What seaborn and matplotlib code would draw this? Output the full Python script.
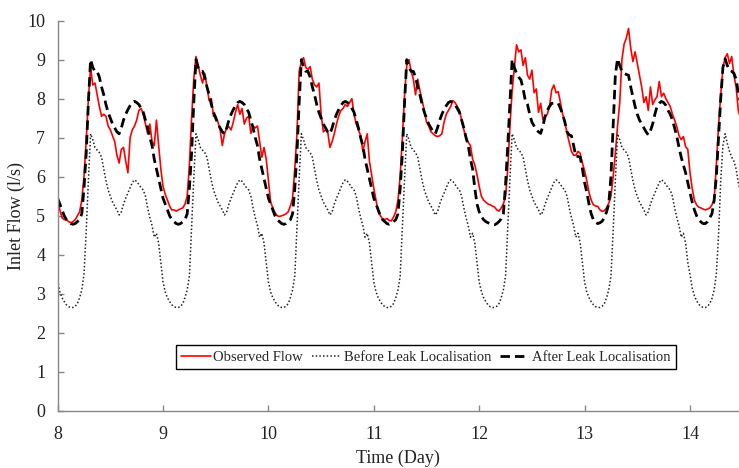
import numpy as np
import pandas as pd
import matplotlib
matplotlib.use("Agg")
import matplotlib.pyplot as plt
import seaborn as sns

# ── Data (half-hourly samples, 48 per day) ────────────────────────────────
START_DAY = 8

observed_d8 = [5.45, 5.15, 4.95, 4.9, 4.9, 4.85, 4.82, 4.85, 4.9, 5.0, 5.1, 5.4, 6.0, 6.9, 8.0, 8.8,
               8.35, 8.4, 8.1, 7.8, 7.55, 7.6, 7.55, 7.3, 7.2, 7.05, 6.9, 6.55, 6.35, 6.7, 6.75, 6.4,
               6.1, 7.0, 7.2, 7.3, 7.45, 7.7, 7.75, 7.6, 7.35, 7.1, 7.35, 6.9, 6.8, 7.45, 6.8, 6.2]
observed_d9 = [5.75, 5.55, 5.4, 5.25, 5.15, 5.15, 5.12, 5.15, 5.18, 5.2, 5.3, 5.5, 6.3, 7.5, 8.5, 9.08,
               8.85, 8.6, 8.4, 8.65, 8.3, 7.95, 8.0, 7.55, 7.55, 7.4, 7.2, 6.8, 7.1, 7.25, 7.28, 7.2,
               7.4, 7.65, 7.85, 7.6, 7.75, 7.35, 7.5, 7.55, 7.11, 7.3, 7.25, 7.3, 6.9, 6.5, 6.75, 6.45]
observed_d10 = [5.9, 5.35, 5.2, 5.08, 5.0, 4.98, 5.0, 5.02, 5.05, 5.1, 5.25, 5.45, 6.2, 7.1, 8.7, 8.95,
                9.05, 8.8, 8.75, 8.82, 8.5, 8.35, 8.3, 8.4, 7.6, 7.15, 7.2, 7.15, 6.75, 6.9, 7.1, 7.35,
                7.55, 7.7, 7.75, 7.85, 7.8, 7.9, 8.0, 7.6, 7.35, 7.2, 7.05, 6.65, 6.9, 7.1, 6.4, 6.05]
observed_d11 = [5.7, 5.4, 5.1, 5.0, 4.92, 4.9, 4.93, 4.88, 4.87, 4.97, 5.1, 5.4, 6.0, 7.0, 8.1, 8.85,
                9.0, 8.7, 8.5, 8.1, 8.5, 8.2, 7.95, 7.7, 7.4, 7.3, 7.15, 7.1, 7.05, 7.03, 7.05, 7.1,
                7.4, 7.6, 7.7, 7.8, 7.95, 7.9, 7.8, 7.7, 7.45, 7.2, 7.0, 6.88, 6.8, 6.45, 6.3, 6.05]
observed_d12 = [5.75, 5.5, 5.4, 5.35, 5.3, 5.28, 5.25, 5.22, 5.15, 5.12, 5.2, 5.3, 5.5, 6.2, 7.3, 8.2,
                8.8, 9.38, 9.2, 9.25, 8.85, 9.05, 8.6, 8.5, 8.73, 8.15, 8.25, 7.65, 7.88, 7.46, 7.55, 7.6,
                7.8, 8.22, 8.35, 8.15, 8.18, 7.9, 7.6, 7.4, 7.11, 6.88, 6.65, 6.55, 6.55, 6.65, 6.6, 6.35]
observed_d13 = [6.15, 5.9, 5.6, 5.4, 5.28, 5.25, 5.24, 5.15, 5.11, 5.13, 5.2, 5.32, 5.5, 6.0, 6.6, 7.3,
                7.9, 9.0, 9.4, 9.55, 9.8, 9.3, 8.95, 9.2, 8.9, 8.6, 8.3, 7.9, 8.05, 7.7, 8.3, 7.85,
                7.97, 8.05, 8.44, 8.05, 8.14, 8.0, 7.9, 7.8, 7.6, 7.45, 7.28, 7.05, 6.95, 7.03, 6.77, 6.7]
observed_d14 = [6.1, 5.7, 5.4, 5.28, 5.22, 5.2, 5.17, 5.15, 5.17, 5.2, 5.28, 5.4, 6.3, 7.3, 8.1, 8.8,
                9.05, 9.15, 8.9, 9.08, 8.6, 8.3, 7.7, 7.5]

before_d8 = [3.35, 3.05, 2.9, 2.8, 2.72, 2.67, 2.65, 2.65, 2.68, 2.75, 2.9, 3.1, 3.5, 4.6, 5.9, 7.1,
             6.95, 6.75, 6.68, 6.62, 6.5, 6.2, 5.9, 5.66, 5.5, 5.35, 5.25, 5.15, 5.02, 5.1, 5.3, 5.45,
             5.58, 5.72, 5.85, 5.92, 5.88, 5.8, 5.72, 5.66, 5.5, 5.2, 4.95, 4.75, 4.45, 4.55, 4.3, 3.8]
before_d9 = [3.3, 3.05, 2.9, 2.8, 2.72, 2.67, 2.65, 2.65, 2.68, 2.75, 2.9, 3.1, 3.45, 4.7, 5.95, 7.1,
             6.95, 6.75, 6.68, 6.62, 6.5, 6.2, 5.9, 5.66, 5.5, 5.35, 5.25, 5.15, 5.02, 5.1, 5.3, 5.45,
             5.58, 5.72, 5.85, 5.92, 5.88, 5.8, 5.72, 5.66, 5.5, 5.2, 4.95, 4.75, 4.45, 4.55, 4.3, 3.8]
before_d10 = [3.3, 3.05, 2.9, 2.8, 2.72, 2.67, 2.65, 2.65, 2.68, 2.75, 2.9, 3.1, 3.45, 4.7, 5.95, 7.1,
              6.95, 6.75, 6.68, 6.62, 6.5, 6.2, 5.9, 5.66, 5.5, 5.35, 5.25, 5.15, 5.02, 5.1, 5.3, 5.45,
              5.58, 5.72, 5.85, 5.92, 5.88, 5.8, 5.72, 5.66, 5.5, 5.2, 4.95, 4.75, 4.45, 4.55, 4.3, 3.8]
before_d11 = [3.3, 3.05, 2.9, 2.8, 2.72, 2.67, 2.65, 2.65, 2.68, 2.75, 2.9, 3.1, 3.45, 4.7, 5.95, 7.1,
              6.95, 6.75, 6.68, 6.62, 6.5, 6.2, 5.9, 5.66, 5.5, 5.35, 5.25, 5.15, 5.02, 5.1, 5.3, 5.45,
              5.58, 5.72, 5.85, 5.92, 5.88, 5.8, 5.72, 5.66, 5.5, 5.2, 4.95, 4.75, 4.45, 4.55, 4.3, 3.8]
before_d12 = [3.3, 3.05, 2.9, 2.8, 2.72, 2.67, 2.65, 2.65, 2.68, 2.75, 2.9, 3.1, 3.45, 4.7, 5.95, 7.1,
              6.95, 6.75, 6.68, 6.62, 6.5, 6.2, 5.9, 5.66, 5.5, 5.35, 5.25, 5.15, 5.02, 5.1, 5.3, 5.45,
              5.58, 5.72, 5.85, 5.92, 5.88, 5.8, 5.72, 5.66, 5.5, 5.2, 4.95, 4.75, 4.45, 4.55, 4.3, 3.8]
before_d13 = [3.3, 3.05, 2.9, 2.8, 2.72, 2.67, 2.65, 2.65, 2.68, 2.75, 2.9, 3.1, 3.45, 4.6, 5.9, 7.1,
              6.95, 6.75, 6.68, 6.62, 6.5, 6.2, 5.9, 5.66, 5.5, 5.35, 5.25, 5.15, 5.02, 5.1, 5.3, 5.45,
              5.58, 5.72, 5.85, 5.92, 5.88, 5.8, 5.72, 5.66, 5.5, 5.2, 4.95, 4.75, 4.45, 4.55, 4.3, 3.8]
before_d14 = [3.5, 3.15, 2.95, 2.82, 2.73, 2.68, 2.65, 2.65, 2.68, 2.75, 2.88, 3.1, 3.5, 4.5, 5.9, 6.8,
              7.1, 6.85, 6.65, 6.5, 6.4, 6.2, 5.85, 5.6]

after_d8 = [5.45, 5.3, 5.15, 5.0, 4.9, 4.85, 4.8, 4.78, 4.8, 4.85, 4.9, 5.05, 5.7, 6.6, 7.9, 9.0,
            8.8, 8.7, 8.7, 8.55, 8.3, 8.1, 7.85, 7.65, 7.5, 7.35, 7.25, 7.15, 7.1, 7.25, 7.45, 7.6,
            7.72, 7.82, 7.9, 7.93, 7.9, 7.85, 7.75, 7.65, 7.45, 7.25, 7.0, 6.8, 6.45, 6.2, 5.95, 5.7]
after_d9 = [5.45, 5.3, 5.15, 5.0, 4.9, 4.85, 4.8, 4.78, 4.8, 4.85, 4.9, 5.05, 5.7, 6.6, 7.9, 9.0,
            8.8, 8.7, 8.7, 8.55, 8.3, 8.1, 7.85, 7.65, 7.5, 7.35, 7.25, 7.15, 7.1, 7.25, 7.45, 7.6,
            7.72, 7.82, 7.9, 7.93, 7.9, 7.85, 7.75, 7.65, 7.45, 7.25, 7.0, 6.8, 6.45, 6.2, 5.95, 5.7]
after_d10 = [5.45, 5.3, 5.15, 5.0, 4.9, 4.85, 4.8, 4.78, 4.8, 4.85, 4.9, 5.05, 5.7, 6.6, 7.9, 9.0,
             8.8, 8.7, 8.7, 8.55, 8.3, 8.1, 7.85, 7.65, 7.5, 7.35, 7.25, 7.15, 7.1, 7.25, 7.45, 7.6,
             7.72, 7.82, 7.9, 7.93, 7.9, 7.85, 7.75, 7.65, 7.45, 7.25, 7.0, 6.8, 6.45, 6.2, 5.95, 5.7]
after_d11 = [5.45, 5.3, 5.15, 5.0, 4.9, 4.85, 4.8, 4.78, 4.8, 4.85, 4.9, 5.05, 5.7, 6.6, 7.9, 9.0,
             8.8, 8.7, 8.7, 8.55, 8.3, 8.1, 7.85, 7.65, 7.5, 7.35, 7.25, 7.15, 7.1, 7.25, 7.45, 7.6,
             7.72, 7.82, 7.9, 7.93, 7.9, 7.85, 7.75, 7.65, 7.45, 7.25, 7.0, 6.8, 6.45, 6.2, 5.7, 5.3]
after_d12 = [5.1, 4.98, 4.9, 4.85, 4.82, 4.8, 4.78, 4.77, 4.8, 4.85, 4.92, 5.05, 5.8, 6.8, 7.9, 9.0,
             8.8, 8.65, 8.55, 8.48, 8.25, 7.95, 7.85, 7.6, 7.4, 7.3, 7.2, 7.15, 7.11, 7.3, 7.54, 7.7,
             7.8, 7.88, 7.88, 7.88, 7.88, 7.75, 7.6, 7.4, 7.15, 7.07, 7.05, 6.8, 6.52, 6.52, 6.5, 6.2]
after_d13 = [5.85, 5.6, 5.3, 5.05, 4.9, 4.83, 4.8, 4.82, 4.86, 4.95, 5.1, 5.3, 6.0, 7.3, 8.6, 9.02,
             8.85, 8.7, 8.65, 8.62, 8.6, 8.3, 8.05, 7.8, 7.6, 7.45, 7.35, 7.25, 7.15, 7.07, 7.18, 7.35,
             7.6, 7.8, 7.88, 7.93, 7.9, 7.83, 7.7, 7.6, 7.45, 7.25, 7.03, 6.75, 6.5, 6.3, 6.1, 5.85]
after_d14 = [5.6, 5.35, 5.15, 5.0, 4.9, 4.84, 4.8, 4.8, 4.85, 4.95, 5.05, 5.4, 6.0, 7.0, 8.0, 8.8,
             9.02, 8.85, 8.73, 8.7, 8.65, 8.5, 8.15, 7.9]

observed = (observed_d8 + observed_d9 + observed_d10 + observed_d11
            + observed_d12 + observed_d13 + observed_d14)
before = before_d8 + before_d9 + before_d10 + before_d11 + before_d12 + before_d13 + before_d14
after = after_d8 + after_d9 + after_d10 + after_d11 + after_d12 + after_d13 + after_d14

time_day = START_DAY + np.arange(len(observed)) / 48.0
df = pd.DataFrame({"Time": time_day, "Observed": observed,
                   "Before": before, "After": after})

# ── Style ──────────────────────────────────────────────────────────────────
sns.set_style("ticks")
plt.rcParams["font.family"] = ["Liberation Serif", "DejaVu Serif"]

fig = plt.figure(figsize=(7.39, 4.68), dpi=100)
ax = fig.add_axes([0.078, 0.122, 0.922, 0.834])

sns.lineplot(data=df, x="Time", y="Observed", ax=ax, color="#ff0000",
             linewidth=1.2, label="Observed Flow", estimator=None)
sns.lineplot(data=df, x="Time", y="Before", ax=ax, color="#222222",
             linewidth=1.1, linestyle=(0, (1, 1.4)),
             label="Before Leak Localisation", estimator=None)
sns.lineplot(data=df, x="Time", y="After", ax=ax, color="black",
             linewidth=2.0, linestyle=(0, (3.4, 1.8)),
             label="After Leak Localisation", estimator=None)

ax.set_xlim(8, 14.465)
ax.set_ylim(0, 10)
ax.set_xticks(range(8, 15))
ax.set_yticks(range(0, 11))
ax.set_xlabel("Time (Day)", fontsize=13, color="#222222", labelpad=5)
ax.set_ylabel("Inlet Flow (l/s)", fontsize=13, color="#222222")
ax.yaxis.set_label_coords(-0.048, 0.5)
ax.tick_params(direction="in", length=4, width=1, color="#888888",
               labelsize=13, labelcolor="#222222")
ax.tick_params(axis="x", pad=11)
ax.tick_params(axis="y", pad=9)

for side in ["top", "right"]:
    ax.spines[side].set_visible(False)
for side in ["left", "bottom"]:
    ax.spines[side].set_color("#888888")
    ax.spines[side].set_linewidth(1.0)

leg = ax.legend(loc="center", bbox_to_anchor=(0.5765, 0.237),
                bbox_transform=fig.transFigure, ncol=3, fontsize=10.5,
                frameon=True, fancybox=False, framealpha=1,
                edgecolor="black", handlelength=2.0, handletextpad=0.2,
                columnspacing=0.6, borderpad=0.35, borderaxespad=0)
leg.get_frame().set_linewidth(1.0)

plt.savefig("out.png", dpi=100)
plt.close()
